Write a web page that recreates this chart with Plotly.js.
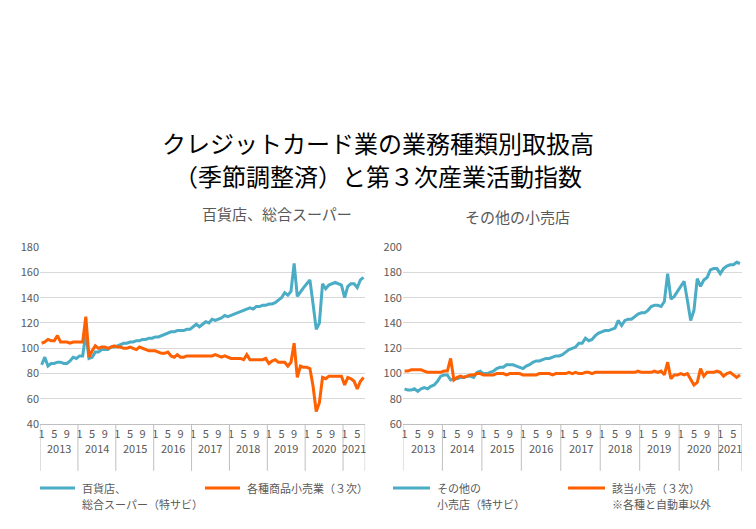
<!DOCTYPE html>
<html>
<head>
<meta charset="utf-8">
<script src="https://cdn.plot.ly/plotly-3.0.1.min.js"></script>
<style>body{margin:0}#chart{width:756px;height:529px}</style>
</head>
<body>
<div id="chart"></div>
<script>
const years = ["2013","2014","2015","2016","2017","2018","2019","2020","2021"];
const monthTicks = ["1","5","9"];

// 百貨店、総合スーパー（特サビ）
const deptStore = [
  87,93,86,88,88,89,89,88,88,90,93,92,
  94,94,112,92,93,97,97,99,99,99,101,101,
  102,103,104,104,105,105,106,106,107,107,108,108,
  109,109,110,111,112,113,113,114,114,114,115,115,
  117,119,117,119,121,120,123,122,123,124,126,125,
  126,127,128,129,130,131,132,131,133,133,134,134,
  135,135,136,138,140,144,142,145,167,141,145,148,
  151,154,135,115,120,151,147,150,151,152,151,150,
  140,149,151,151,148,154,156
];
// 各種商品小売業（３次）
const generalRetail = [
  104,105,107,106,106,110,105,105,105,104,105,105,
  105,105,125,93,98,102,100,101,101,100,101,102,
  101,101,100,100,101,100,99,101,100,99,98,98,
  98,97,96,96,97,94,93,95,93,93,94,94,
  94,94,94,94,94,94,94,95,94,93,94,93,
  92,92,92,92,91,95,91,91,91,91,91,92,
  88,90,91,89,89,89,86,89,104,77,86,85,
  85,84,70,50,57,77,76,78,78,78,78,78,
  71,77,76,74,68,74,77
];
// その他の小売店（特サビ）
const otherStores = [
  88,87,87,88,86,88,89,88,90,91,94,98,
  99,99,95,96,96,97,97,98,98,97,101,102,
  100,100,101,102,104,105,105,107,107,107,106,105,
  104,106,107,109,110,110,111,112,112,113,114,114,
  115,117,119,120,121,124,124,128,126,127,130,132,
  133,134,134,135,136,142,138,142,143,143,145,147,
  148,148,150,153,154,154,153,157,179,159,161,165,
  170,173,158,142,150,175,169,174,176,182,183,183,
  179,183,185,186,186,188,187
];
// 該当小売（３次）
const otherRetail = [
  102,102,103,103,103,103,102,101,101,101,101,101,
  102,102,112,95,97,98,97,98,99,99,100,100,
  99,99,99,99,100,100,100,99,100,100,100,100,
  99,99,99,99,99,100,100,100,100,99,100,100,
  100,100,101,100,101,100,100,101,101,100,101,101,
  101,101,101,101,101,101,101,101,101,101,101,102,
  101,101,101,101,102,101,102,99,109,96,99,99,
  100,99,100,96,91,93,104,98,101,101,101,102,
  101,98,100,101,99,97,99
];

const BLUE = "#4bacc6", ORANGE = "#ff6000", GRID = "#d9d9d9", TXT = "#595959";
const idx = deptStore.map((_, i) => i);
const n = idx.length;

const tickvals = [], ticktext = [];
idx.forEach(i => { if (i % 4 === 0) { tickvals.push(i); ticktext.push(monthTicks[(i % 12) / 4]); } });

const line = (y, c, xa, ya) => ({x: idx, y: y, xaxis: xa, yaxis: ya, type: "scatter", mode: "lines",
  line: {color: c, width: 3}, hoverinfo: "skip", showlegend: false});

const data = [
  line(deptStore, BLUE, "x", "y"), line(generalRetail, ORANGE, "x", "y"),
  line(otherStores, BLUE, "x2", "y2"), line(otherRetail, ORANGE, "x2", "y2")
];

const xax = (dom, anchor) => ({domain: dom, anchor: anchor, range: [-0.5, n - 0.5], tickvals: tickvals, ticktext: ticktext,
  showgrid: false, zeroline: false, showline: true, linecolor: "#bfbfbf", ticks: "", tickfont: {size: 11, color: TXT}});
const yax = (range, dtick, anchor) => ({domain: [0.198, 0.533], anchor: anchor, range: range, dtick: dtick, showgrid: true, gridcolor: GRID,
  zeroline: false, tickfont: {size: 11, color: TXT}, fixedrange: true});

const shapes = [], annotations = [];
function yearAxis(xref) {
  for (let k = 0; k <= years.length; k++) {
    const xv = Math.min(k * 12, n) - 0.5;
    shapes.push({type: "line", xref: xref, yref: "paper", x0: xv, x1: xv, y0: 0.198, y1: 0.11, line: {color: "#bfbfbf", width: 1}});
  }
  years.forEach((yr, k) => {
    const c = (k * 12 + Math.min(k * 12 + 12, n)) / 2 - 0.5;
    annotations.push({xref: xref, yref: "paper", x: c, y: 0.134, text: yr, showarrow: false, font: {size: 11, color: TXT}});
  });
}
yearAxis("x"); yearAxis("x2");

function legendItem(x0, x1, y, color, lines) {
  shapes.push({type: "line", xref: "paper", yref: "paper", x0: x0 / 756, x1: x1 / 756, y0: 1 - y / 529, y1: 1 - y / 529, line: {color: color, width: 3}});
  lines.forEach((t, j) => {
    annotations.push({xref: "paper", yref: "paper", x: (x1 + 5) / 756, y: 1 - (y + j * 16) / 529, xanchor: "left", yanchor: "middle", align: "left",
      text: t, showarrow: false, font: {size: 11, color: TXT}});
  });
}
legendItem(40, 75, 488, BLUE, ["百貨店、", "総合スーパー（特サビ）"]);
legendItem(205, 240, 488, ORANGE, ["各種商品小売業（３次）"]);
legendItem(393, 430, 488, BLUE, ["その他の", "小売店（特サビ）"]);
legendItem(568, 605, 488, ORANGE, ["該当小売（３次）", "※各種と自動車以外"]);

annotations.push({xref: "paper", yref: "paper", x: 0.265, y: 1 - 213 / 529, text: "百貨店、総合スーパー", showarrow: false, font: {size: 15, color: TXT}});
annotations.push({xref: "paper", yref: "paper", x: 0.757, y: 1 - 216 / 529, text: "その他の小売店", showarrow: false, font: {size: 15, color: TXT}});
annotations.push({xref: "paper", yref: "paper", x: 0.5, y: 1 - 123 / 529, text: "クレジットカード業の業務種類別取扱高", showarrow: false, font: {size: 24, color: "#000"}});
annotations.push({xref: "paper", yref: "paper", x: 0.5, y: 1 - 156 / 529, text: "（季節調整済）と第３次産業活動指数", showarrow: false, font: {size: 24, color: "#000"}});

const layout = {
  width: 756, height: 529, margin: {l: 0, r: 0, t: 0, b: 0},
  paper_bgcolor: "#fff", plot_bgcolor: "#fff",
  font: {family: "Noto Sans CJK JP, sans-serif"},
  xaxis: xax([0.053, 0.483], "y"), yaxis: yax([40, 180], 20, "x"),
  xaxis2: xax([0.533, 0.981], "y2"), yaxis2: yax([60, 200], 20, "x2"),
  shapes: shapes, annotations: annotations
};

Plotly.newPlot("chart", data, layout, {displayModeBar: false, staticPlot: true});
</script>
</body>
</html>
